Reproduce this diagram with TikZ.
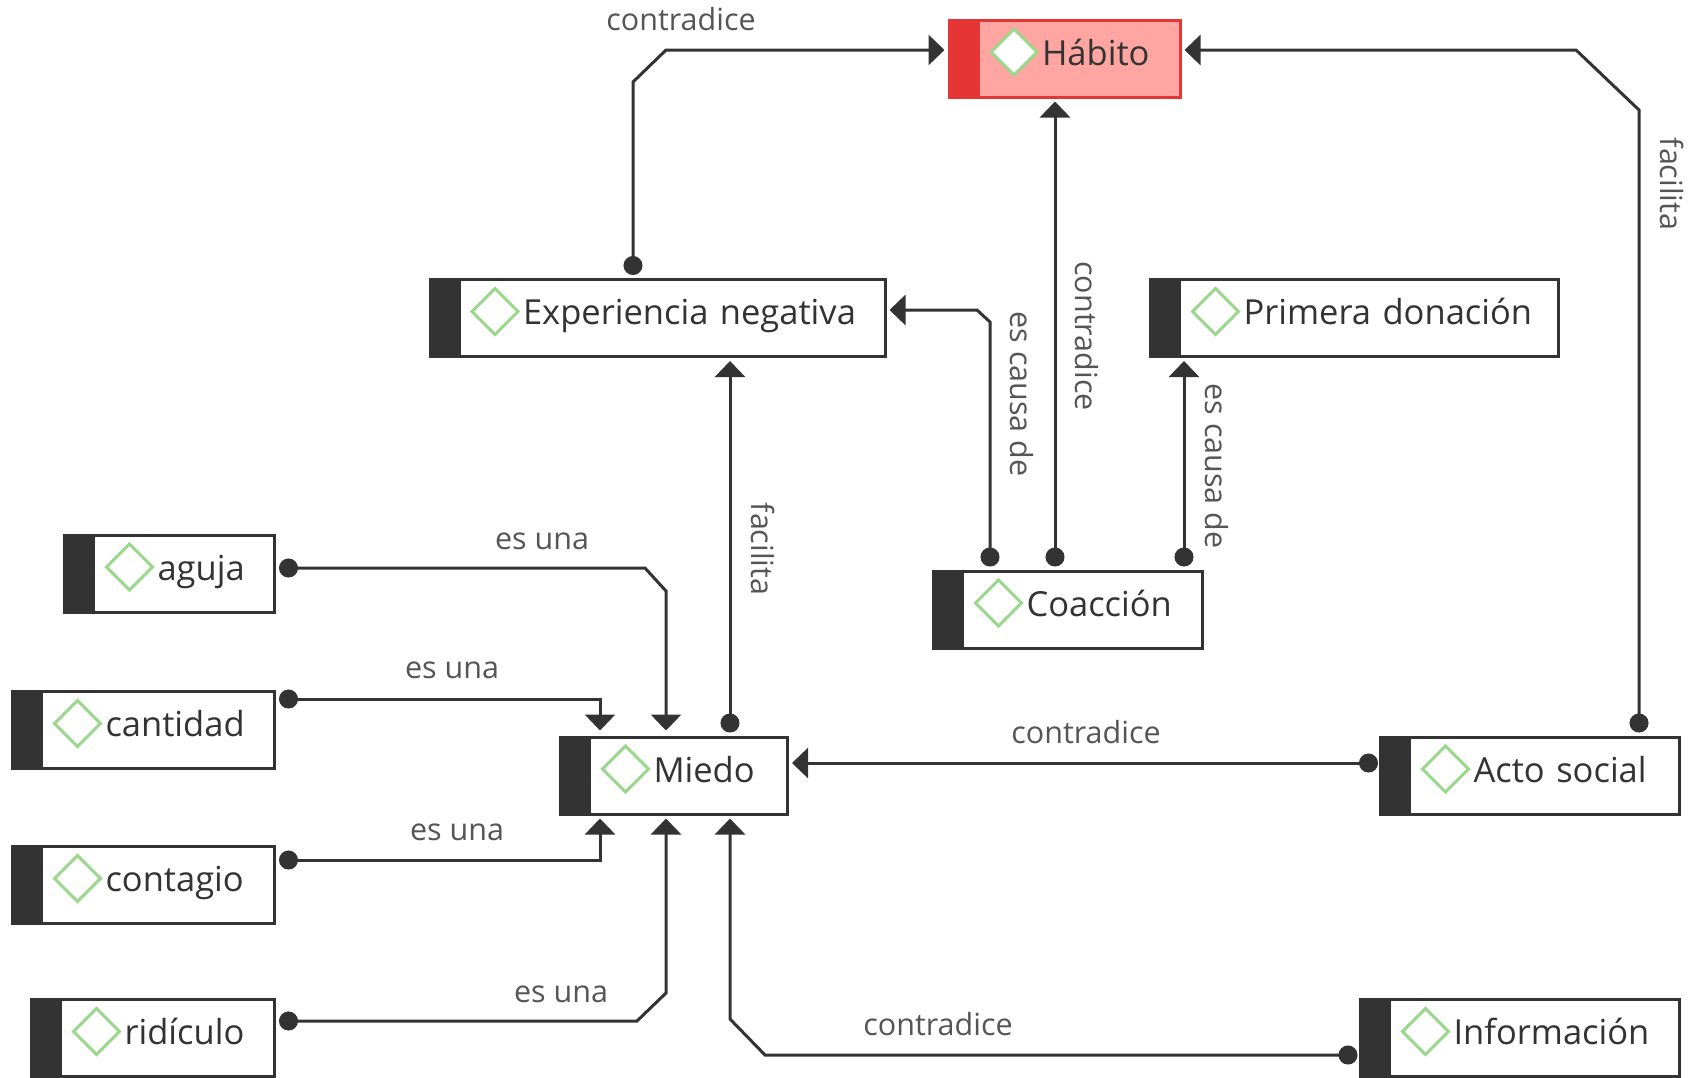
\documentclass[tikz,border=0pt]{standalone}
\usepackage{fontspec}
\setmainfont{Open Sans}
\usetikzlibrary{arrows.meta}
\definecolor{boxdark}{HTML}{333333}
\definecolor{rimred}{HTML}{E53535}
\definecolor{softred}{HTML}{FFA6A2}
\definecolor{tagleaf}{HTML}{9BD88D}
\definecolor{wordgrey}{HTML}{555555}

\begin{document}
\begin{tikzpicture}[x=1pt, y=-1pt,
		stripe/.store in=\stripecol, stripe=boxdark,
		main/.style = {draw=boxdark, fill=white, line width=3pt, inner sep=0pt, minimum height=77pt,
			text width=#1, align=left, text height=23pt, text depth=10pt, text=boxdark,
			font=\fontsize{34.5}{38}\selectfont,
			execute at begin node={\hspace*{93pt}},
			path picture={
				\fill[\stripecol] (path picture bounding box.north west) rectangle ([xshift=30.5pt]path picture bounding box.south west);
				\draw[tagleaf, line width=3pt, fill=white] ([xshift=65pt,yshift=-32pt]path picture bounding box.north west)
					++(-23,0) -- ++(23,-23) -- ++(23,23) -- ++(-23,23) -- cycle;
			}},
		link/.style = {draw=boxdark, line width=3pt, shorten <=3pt, shorten >=3pt,
			{Circle[length=19pt,width=19pt]}-{Triangle[length=16pt,width=30pt]}},
		word/.style = {text=wordgrey, inner sep=0pt, font=\fontsize{30.5}{33}\selectfont},
		down/.style = {word, rotate=-90}]
		\useasboundingbox (0,0) rectangle (1693,1077);

		\node[main=231pt, draw=rimred, fill=softred, stripe=rimred] (habito) at (1064.5,58.5) {Hábito};
		\node[main=455pt] (experiencia) at (657.5,318) {Experiencia negativa};
		\node[main=408pt] (primera) at (1354.5,318) {Primera donación};
		\node[main=269pt] (coaccion) at (1068,609.5) {Coacción};
		\node[main=227pt] (miedo) at (674,775.5) {Miedo};
		\node[main=299pt] (acto) at (1530,775.5) {Acto social};
		\node[main=319pt] (informacion) at (1520,1038) {Información};
		\node[main=210pt] (aguja) at (169.5,573.5) {aguja};
		\node[main=262pt] (cantidad) at (143.5,730) {cantidad};
		\node[main=262pt] (contagio) at (143.5,885) {contagio};
		\node[main=243pt] (ridiculo) at (153,1038) {ridículo};

		\draw[link] ([xshift=-24.5pt]experiencia.north) -- (633,82) -- (666,50) -- ([yshift=8.5pt]habito.west);
		\draw[link] ([xshift=-13pt]coaccion.north) -- ([xshift=-9.5pt]habito.south);
		\draw[link] ([xshift=-78pt]coaccion.north) -- (990,322) -- (977,310) -- ([yshift=8pt]experiencia.east);
		\draw[link] ([xshift=116pt]coaccion.north) -- ([xshift=-170.5pt]primera.south);
		\draw[link] ([xshift=109pt]acto.north) -- (1639,110) -- (1576,50) -- ([yshift=8.5pt]habito.east);
		\draw[link] ([xshift=56pt]miedo.north) -- ([xshift=72.5pt]experiencia.south);
		\draw[link] ([yshift=5.5pt]aguja.east) -- (645,568) -- (666,591) -- ([xshift=-8pt,yshift=2pt]miedo.north);
		\draw[link] ([yshift=31pt]cantidad.east) -| ([xshift=-74pt,yshift=2pt]miedo.north);
		\draw[link] ([yshift=25pt]contagio.east) -| ([xshift=-74pt]miedo.south);
		\draw[link] ([yshift=17pt]ridiculo.east) -- (637,1021) -- (666,993) -- ([xshift=-8pt]miedo.south);
		\draw[link, shorten <=1.5pt] ([yshift=-17pt]informacion.west) -- (765,1055) -- (730,1019) -- ([xshift=56pt]miedo.south);
		\draw[link, shorten <=1pt] ([yshift=12.5pt]acto.west) -- ([yshift=12.5pt]miedo.east);

		\node[word] (w1) at (681,19) {contradice};
		\node[down] (w2) at (1672,184) {facilita};
		\node[down] (w3) at (1022,394) {es causa de};
		\node[down] (w4) at (1087,336) {contradice};
		\node[down] (w5) at (1217,466) {es causa de};
		\node[down] (w6) at (763,549) {facilita};
		\node[word] (w7) at (542,541) {es una};
		\node[word] (w8) at (452,670) {es una};
		\node[word] (w9) at (1086,732) {contradice};
		\node[word] (w10) at (457,832) {es una};
		\node[word] (w11) at (561,994) {es una};
		\node[word] (w12) at (938,1024) {contradice};
	\end{tikzpicture}
\end{document}
